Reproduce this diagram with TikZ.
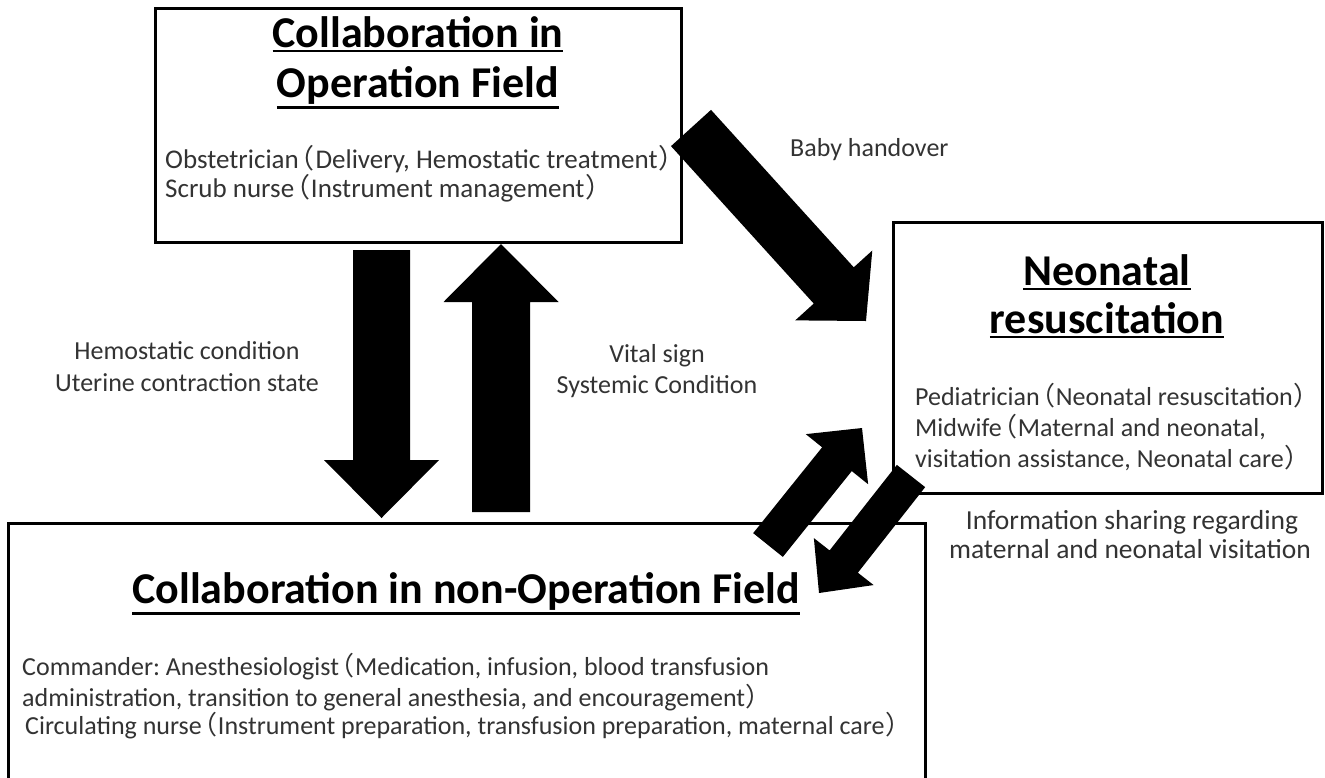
\documentclass[tikz,border=0pt]{standalone}
\usepackage{fontspec}
\setmainfont{Carlito}
\newfontfamily\cjk[RawFeature=+palt]{Noto Sans CJK JP}
\usetikzlibrary{calc}
\frenchspacing
\newcommand\lp{\hspace{0.06em}{\cjk （}\hspace{0.06em}}
\newcommand\rp{\hspace{0.06em}{\cjk ）}}
\newcommand\myul[1]{\setbox0=\hbox{#1}\leavevmode\rlap{\raisebox{\dimexpr-\dp0-5pt\relax}{\rule{\wd0}{2.5pt}}}\box0}
\newcommand\blockarrow[5]{%
  \coordinate (ba-b) at ($(#2)!#5!(#1)$);
  \fill ($(#1)!#3!90:(#2)$) -- ($(ba-b)!#3!90:(#2)$) -- ($(ba-b)!#4!90:(#2)$) -- (#2)
     -- ($(ba-b)!#4!-90:(#2)$) -- ($(ba-b)!#3!-90:(#2)$) -- ($(#1)!#3!-90:(#2)$) -- cycle;}
\tikzset{
  box/.style={draw, line width=3pt, inner sep=0},
  title/.style={font=\bfseries\fontsize{44}{50}\selectfont, anchor=base, inner sep=0},
  body/.style={font=\fontsize{26}{30}\selectfont, anchor=base west, inner sep=0, text=black!80},
  lab/.style={font=\fontsize{26}{30}\selectfont, anchor=base, inner sep=0, text=black!80},
}
\begin{document}
\begin{tikzpicture}[x=1pt,y=-1pt]
\clip (0,0) rectangle (1325,777);
\fill[white] (0,0) rectangle (1325,777);
% boxes
\node[box, minimum width=526pt, minimum height=234pt] (op) at (418,125) {};
\node[box, minimum width=429pt, minimum height=271pt] (neo) at (1107.5,357.5) {};
\node[box, minimum width=917pt, minimum height=280pt] (nonop) at (466.5,663) {};
% titles
\node[title] (t1a) at (418,47) {\myul{Collaboration in}};
\node[title] (t1b) at (418,97) {\myul{Operation Field}};
\node[title] (t2a) at (1107,285) {\myul{Neonatal}};
\node[title] (t2b) at (1107,333) {\myul{resuscitation}};
\node[title] (t3) at (466,603) {\myul{Collaboration in non-Operation Field}};
% body texts
\node[body, font=\fontsize{27}{30}\selectfont] (b1a) at (165,168) {Obstetrician\lp Delivery, Hemostatic treatment\rp};
\node[body, font=\fontsize{27}{30}\selectfont] (b1b) at (165,197) {Scrub nurse\lp Instrument management\rp};
\node[body] (b2a) at (915,405) {Pediatrician\lp Neonatal resuscitation\rp};
\node[body] (b2b) at (915,436) {Midwife\lp Maternal and neonatal,};
\node[body] (b2c) at (915,467) {visitation assistance, Neonatal care\rp};
\node[body] (b3a) at (22,675) {Commander: Anesthesiologist\lp Medication, infusion, blood transfusion};
\node[body] (b3b) at (22,706) {administration, transition to general anesthesia, and encouragement\rp};
\node[body] (b3c) at (25,734) {Circulating nurse\lp Instrument preparation, transfusion preparation, maternal care\rp};
% labels
\node[lab] (l1a) at (187,359) {Hemostatic condition};
\node[lab] (l1b) at (187,391) {Uterine contraction state};
\node[lab] (l2a) at (657,362) {Vital sign};
\node[lab] (l2b) at (657,393) {Systemic Condition};
\node[lab, anchor=base west] (l3) at (790,156) {Baby handover};
\node[lab, font=\fontsize{27.5}{30}\selectfont] (l4a) at (1132,529) {Information sharing regarding};
\node[lab, font=\fontsize{27.5}{30}\selectfont] (l4b) at (1130,558) {maternal and neonatal visitation};
% arrow end points
\coordinate (dnT) at (381.5,250);
\coordinate (dnH) at (381.5,518);
\coordinate (upT) at (501,512);
\coordinate (upH) at (501,244);
\coordinate (bbT) at (691,128);
\coordinate (bbH) at (866,321);
\coordinate (urT) at (768,545);
\coordinate (urH) at (862,428);
\coordinate (dlT) at (911,476);
\coordinate (dlH) at (819,593);
% block arrows
\blockarrow{dnT}{dnH}{28.5pt}{57.5pt}{58pt}
\blockarrow{upT}{upH}{29pt}{57.5pt}{58pt}
\blockarrow{bbT}{bbH}{27pt}{52pt}{48pt}
\blockarrow{urT}{urH}{19pt}{40pt}{40pt}
\blockarrow{dlT}{dlH}{18pt}{38pt}{40pt}
\end{tikzpicture}
\end{document}
